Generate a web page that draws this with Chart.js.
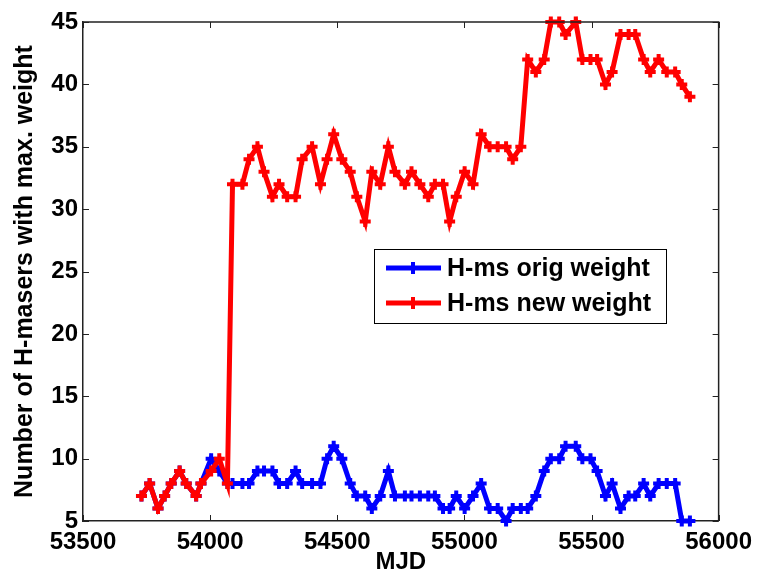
<!DOCTYPE html>
<html>
<head>
<meta charset="utf-8">
<title>H-masers with max. weight</title>
<script src="https://cdn.jsdelivr.net/npm/chart.js@4.4.0/dist/chart.umd.min.js"></script>
<style>
html, body { margin: 0; padding: 0; background: #fff; }
#wrap { width: 759px; height: 577px; }
</style>
</head>
<body>
<div id="wrap"><canvas id="chart" width="759" height="577"></canvas></div>
<script>
// MJD of each point
var mjd = [53730, 53762, 53795, 53821, 53847, 53880, 53906, 53945, 53964, 54004, 54036, 54068,
	54088, 54127, 54153, 54186, 54212, 54245, 54271, 54303, 54336, 54362,
	54401, 54434, 54460, 54486, 54518, 54551, 54577, 54610, 54636, 54669,
	54701, 54727, 54766, 54792, 54825, 54858, 54884, 54916, 54942, 54968,
	55001, 55034, 55066, 55099, 55131, 55164, 55190, 55222, 55249, 55281,
	55314, 55340, 55373, 55398, 55438, 55464, 55496, 55522, 55555, 55581,
	55614, 55646, 55672, 55705, 55731, 55764, 55796, 55829, 55855, 55887];

var origWeight = [7, 8, 6, 7, 8, 9, 8, 7, 8, 10, 9, 8,
	8, 8, 8, 9, 9, 9, 8, 8, 9, 8,
	8, 8, 10, 11, 10, 8, 7, 7, 6, 7,
	9, 7, 7, 7, 7, 7, 7, 6, 6, 7,
	6, 7, 8, 6, 6, 5, 6, 6, 6, 7,
	9, 10, 10, 11, 11, 10, 10, 9, 7, 8,
	6, 7, 7, 8, 7, 8, 8, 8, 5, 5];

var newWeight = [7, 8, 6, 7, 8, 9, 8, 7, 8, 9, 10, 8,
	32, 32, 34, 35, 33, 31, 32, 31, 31, 34,
	35, 32, 34, 36, 34, 33, 31, 29, 33, 32,
	35, 33, 32, 33, 32, 31, 32, 32, 29, 31,
	33, 32, 36, 35, 35, 35, 34, 35, 42, 41,
	42, 45, 45, 44, 45, 42, 42, 42, 40, 41,
	44, 44, 44, 42, 41, 42, 41, 41, 40, 39];

var seriesNames = ['H-ms orig weight', 'H-ms new weight'];
var seriesColors = ['#0000ff', '#ff0000'];
var xTicks = [53500, 54000, 54500, 55000, 55500, 56000];
var yTicks = [5, 10, 15, 20, 25, 30, 35, 40, 45];

var FONT = '"Liberation Sans", Arial, sans-serif';

function points(ys) {
	var out = [];
	for (var i = 0; i < mjd.length; i++) {
		out.push({x: mjd[i], y: ys[i]});
	}
	return out;
}

// box round the plot plus the little inward ticks, matlab style
var frame = {
	id: 'frame',
	afterDraw: function(chart) {
		var ctx = chart.ctx;
		var a = chart.chartArea;
		var sx = chart.scales.x, sy = chart.scales.y;
		ctx.save();
		ctx.strokeStyle = '#222';
		ctx.lineWidth = 1.5;
		ctx.beginPath();
		ctx.moveTo(a.left, a.top); ctx.lineTo(a.right, a.top); ctx.lineTo(a.right, a.bottom);
		ctx.stroke();
		ctx.lineWidth = 1;
		ctx.beginPath();
		xTicks.forEach(function(v) {
			var px = Math.round(sx.getPixelForValue(v)) + 0.5;
			ctx.moveTo(px, a.bottom); ctx.lineTo(px, a.bottom - 6);
			ctx.moveTo(px, a.top); ctx.lineTo(px, a.top + 6);
		});
		yTicks.forEach(function(v) {
			var py = Math.round(sy.getPixelForValue(v)) + 0.5;
			ctx.moveTo(a.left, py); ctx.lineTo(a.left + 6, py);
			ctx.moveTo(a.right, py); ctx.lineTo(a.right - 6, py);
		});
		ctx.stroke();
		ctx.restore();
	}
};

// legend box sits inside the axes
var boxLegend = {
	id: 'boxLegend',
	afterDatasetsDraw: function(chart) {
		var ctx = chart.ctx;
		var x0 = 374, y0 = 249, w = 292, h = 74;
		ctx.save();
		ctx.fillStyle = '#fff';
		ctx.fillRect(x0, y0, w, h);
		ctx.strokeStyle = '#000';
		ctx.lineWidth = 1;
		ctx.strokeRect(x0 + 0.5, y0 + 0.5, w, h);
		chart.data.datasets.forEach(function(ds, i) {
			var cy = y0 + 19 + i * 35;
			var mx = x0 + 39;
			ctx.strokeStyle = ds.borderColor;
			ctx.lineWidth = 5;
			ctx.beginPath();
			ctx.moveTo(x0 + 12, cy); ctx.lineTo(x0 + 67, cy);
			ctx.stroke();
			ctx.lineWidth = 4;
			ctx.beginPath();
			ctx.moveTo(mx - 6, cy); ctx.lineTo(mx + 6, cy);
			ctx.moveTo(mx, cy - 6); ctx.lineTo(mx, cy + 6);
			ctx.stroke();
			ctx.fillStyle = '#000';
			ctx.font = 'bold 25px ' + FONT;
			ctx.textBaseline = 'middle';
			ctx.fillText(ds.label, x0 + 73, cy + 1);
		});
		ctx.restore();
	}
};

function makeSet(i, ys) {
	return {
		label: seriesNames[i],
		data: points(ys),
		borderColor: seriesColors[i],
		backgroundColor: seriesColors[i],
		borderWidth: 5,
		pointStyle: 'cross',
		pointRadius: 5.5,
		pointBorderWidth: 4,
		pointBorderColor: seriesColors[i],
		tension: 0,
		clip: false,
		order: i === 0 ? 2 : 1
	};
}

var ctx = document.getElementById('chart');
var chart = new Chart(ctx, {
	type: 'line',
	data: {
		datasets: [makeSet(0, origWeight), makeSet(1, newWeight)]
	},
	options: {
		responsive: false,
		animation: false,
		devicePixelRatio: 1,
		layout: { padding: { top: 22, right: 37, left: 0, bottom: 0 } },
		plugins: {
			legend: { display: false },
			tooltip: { enabled: false }
		},
		scales: {
			x: {
				type: 'linear',
				min: 53500,
				max: 56000,
				afterBuildTicks: function(scale) {
					scale.ticks = xTicks.map(function(v) { return {value: v}; });
				},
				afterFit: function(scale) { scale.height = 56; },
				grid: { display: false, drawTicks: false },
				border: { display: true, color: '#222', width: 1.5 },
				ticks: {
					color: '#000',
					padding: 7,
					maxRotation: 0,
					font: { family: FONT, size: 24, weight: 'bold' },
					callback: function(v) { return String(v); }
				},
				title: {
					display: true,
					text: 'MJD',
					color: '#000',
					padding: { top: 4, bottom: 0 },
					font: { family: FONT, size: 24, weight: 'bold' }
				}
			},
			y: {
				min: 5,
				max: 45,
				afterBuildTicks: function(scale) {
					scale.ticks = yTicks.map(function(v) { return {value: v}; });
				},
				afterFit: function(scale) { scale.width = 83; },
				grid: { display: false, drawTicks: false },
				border: { display: true, color: '#222', width: 1.5 },
				ticks: {
					color: '#000',
					padding: 5,
					font: { family: FONT, size: 24, weight: 'bold' },
					callback: function(v) { return String(v); }
				},
				title: {
					display: true,
					text: 'Number of H-masers with max. weight',
					color: '#000',
					padding: { top: 10, bottom: 0 },
					font: { family: FONT, size: 25, weight: 'bold' }
				}
			}
		}
	},
	plugins: [frame, boxLegend]
});
</script>
</body>
</html>
